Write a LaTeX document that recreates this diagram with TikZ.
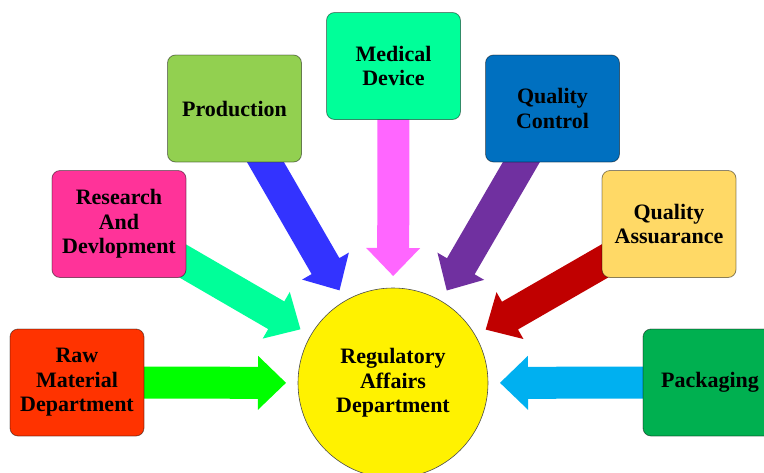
\documentclass[tikz,border=0pt]{standalone}
\usepackage{fontspec}
\setmainfont{Liberation Serif}
\usetikzlibrary{calc,backgrounds}
\definecolor{cRaw}{HTML}{FF3300}
\definecolor{cRes}{HTML}{FF3399}
\definecolor{cProd}{HTML}{92D050}
\definecolor{cMed}{HTML}{00FF99}
\definecolor{cQC}{HTML}{0070C0}
\definecolor{cQA}{HTML}{FFD966}
\definecolor{cPack}{HTML}{00B050}
\definecolor{aRaw}{HTML}{00FF00}
\definecolor{aRes}{HTML}{00FF99}
\definecolor{aProd}{HTML}{3333FF}
\definecolor{aMed}{HTML}{FF66FF}
\definecolor{aQC}{HTML}{7030A0}
\definecolor{aQA}{HTML}{C00000}
\definecolor{aPack}{HTML}{00B0F0}
\newcommand\blockarr[2]{%
  \coordinate (S) at (#2.center);
  \coordinate (T) at ($(reg.center)!107pt!(S)$);
  \coordinate (B) at ($(T)!28pt!(S)$);
  \fill[#1] ($(S)!16pt!90:(T)$) -- ($(B)!16pt!90:(T)$) -- ($(B)!27pt!90:(T)$) -- (T)
    -- ($(B)!27pt!-90:(T)$) -- ($(B)!16pt!-90:(T)$) -- ($(S)!16pt!-90:(T)$) -- cycle;
}
\tikzset{
  dept/.style={draw=black, draw opacity=0.45, line width=0.8pt, rounded corners=8pt,
    minimum width=134pt, minimum height=107pt, inner sep=0pt, align=center,
    font=\fontsize{22}{24.5}\selectfont\bfseries},
  hub/.style={circle, draw=black!70, line width=0.6pt, fill=yellow, minimum size=190pt,
    inner sep=0pt, align=center, font=\fontsize{22}{24.5}\selectfont\bfseries}
}
\begin{document}
\begin{tikzpicture}[x=1pt,y=-1pt]
\useasboundingbox (0,0) rectangle (764,472);
\clip (0,0) rectangle (764,472);
\node[hub] (reg) at (393,383) {Regulatory\\Affairs\\Department};
\node[dept, fill=cRaw] (raw) at (77,382.5) {Raw\\Material\\Department};
\node[dept, fill=cRes] (res) at (119,224) {Research\\And\\Devlopment};
\node[dept, fill=cProd] (prod) at (234.5,108.5) {Production};
\node[dept, fill=cMed] (med) at (393.5,66) {Medical\\Device};
\node[dept, fill=cQC] (qc) at (552.5,108.5) {Quality\\Control};
\node[dept, fill=cQA] (qa) at (669,224) {Quality\\Assuarance};
\node[dept, fill=cPack] (pack) at (710,382.5) {Packaging};
\begin{scope}[on background layer]
\blockarr{aRaw}{raw}
\blockarr{aRes}{res}
\blockarr{aProd}{prod}
\blockarr{aMed}{med}
\blockarr{aQC}{qc}
\blockarr{aQA}{qa}
\blockarr{aPack}{pack}
\end{scope}
\end{tikzpicture}
\end{document}
